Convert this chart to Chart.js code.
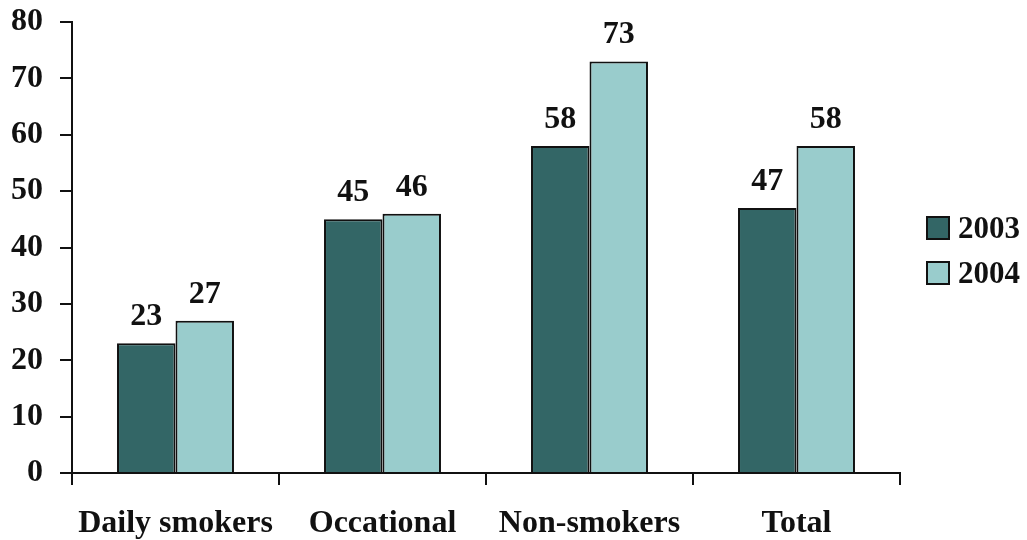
<!DOCTYPE html>
<html lang="en">
<head>
	<meta charset="UTF-8">
	<title>Smokers 2003-2004</title>
	<script src="https://cdn.jsdelivr.net/npm/chart.js@4.4.0/dist/chart.umd.min.js"></script>
	<style>
		html, body { margin: 0; padding: 0; background: #fff; }
		#wrap { width: 1027px; height: 540px; }
	</style>
</head>
<body>
	<div id="wrap"><canvas id="grafico"></canvas></div>

	<script>
		const categorias = ['Daily smokers', 'Occational', 'Non-smokers', 'Total'];
		const anos = ['2003', '2004'];
		const valores2003 = [23, 45, 58, 47];
		const valores2004 = [27, 46, 73, 58];
		const cores = ['#336666', '#99CCCC'];

		const fonte = '"Liberation Serif", "Times New Roman", serif';

		// numbers above each bar
		const rotulos = {
			id: 'rotulos',
			afterDatasetsDraw(chart) {
				const ctx = chart.ctx;
				ctx.save();
				ctx.font = `bold 32px ${fonte}`;
				ctx.fillStyle = '#111';
				ctx.textAlign = 'center';
				ctx.textBaseline = 'alphabetic';
				chart.data.datasets.forEach((ds, i) => {
					chart.getDatasetMeta(i).data.forEach((bar, j) => {
						ctx.fillText(ds.data[j], bar.x, bar.y - 18);
					});
				});
				ctx.restore();
			}
		};

		// legend on the right
		const legenda = {
			id: 'legenda',
			afterDraw(chart) {
				const ctx = chart.ctx;
				ctx.save();
				ctx.font = `bold 31px ${fonte}`;
				ctx.textBaseline = 'alphabetic';
				chart.data.datasets.forEach((ds, i) => {
					const y = 217 + i * 45;
					ctx.fillStyle = ds.backgroundColor;
					ctx.fillRect(927, y, 22, 22);
					ctx.lineWidth = 2;
					ctx.strokeStyle = '#111';
					ctx.strokeRect(927, y, 22, 22);
					ctx.fillStyle = '#111';
					ctx.fillText(ds.label, 958, y + 21);
				});
				ctx.restore();
			}
		};

		const grafico = new Chart(document.querySelector('#grafico'), {
			type: 'bar',
			data: {
				labels: categorias,
				datasets: [
					{ label: anos[0], data: valores2003, backgroundColor: cores[0], borderColor: '#111', borderWidth: 2 },
					{ label: anos[1], data: valores2004, backgroundColor: cores[1], borderColor: '#111', borderWidth: 2 }
				]
			},
			options: {
				responsive: true,
				maintainAspectRatio: false,
				animation: false,
				categoryPercentage: 0.565,
				barPercentage: 1.0,
				layout: { padding: { top: 22, right: 127, left: 0, bottom: 0 } },
				plugins: {
					legend: { display: false },
					tooltip: { enabled: false }
				},
				scales: {
					x: {
						afterFit(scale) { scale.height = 67; scale.paddingLeft = 0; scale.paddingRight = 0; },
						grid: { offset: true, drawOnChartArea: false, drawTicks: true, tickLength: 12, color: '#111', lineWidth: 2 },
						border: { display: true, color: '#111', width: 2 },
						ticks: {
							padding: 20,
							color: '#111',
							font: { family: fonte, size: 32, weight: 'bold' }
						}
					},
					y: {
						min: 0,
						max: 80,
						afterFit(scale) { scale.width = 72; scale.paddingTop = 0; scale.paddingBottom = 0; },
						grid: { drawOnChartArea: false, drawTicks: true, tickLength: 12, color: '#111', lineWidth: 2 },
						border: { display: true, color: '#111', width: 2 },
						ticks: {
							stepSize: 10,
							padding: 17,
							color: '#111',
							font: { family: fonte, size: 32, weight: 'bold' }
						}
					}
				}
			},
			plugins: [rotulos, legenda]
		});
	</script>
</body>
</html>
